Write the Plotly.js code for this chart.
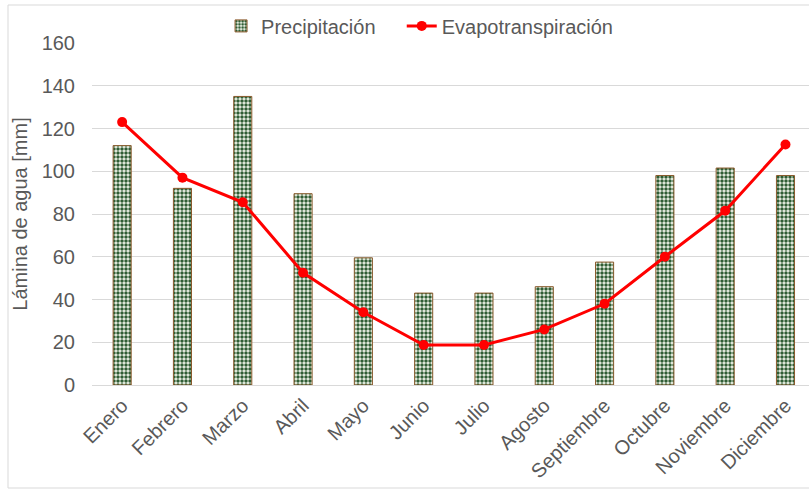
<!DOCTYPE html>
<html>
<head>
<meta charset="utf-8">
<script src="https://cdn.plot.ly/plotly-3.0.1.min.js"></script>
<style>html,body{margin:0;padding:0;background:#fff;}#chart{width:809px;height:490px;}</style>
</head>
<body>
<div id="chart"></div>
<script>
const meses = ["Enero","Febrero","Marzo","Abril","Mayo","Junio","Julio","Agosto","Septiembre","Octubre","Noviembre","Diciembre"];
const precipitacion = [112, 92, 135, 89.5, 59.5, 43, 43, 46, 57.5, 98, 101.5, 98];
const evapotranspiracion = [123, 97, 85.5, 52.5, 34, 18.7, 18.7, 26, 38, 60, 81.5, 112.5];

const txt = '#595959';
const font = 'Arial, "Liberation Sans", sans-serif';

const traces = [
  {
    type: 'bar', name: 'Precipitación', x: meses, y: precipitacion, width: 0.3, legend: 'legend',
    marker: {
      color: '#ffffff',
      line: {color: '#8a5a2c', width: 1},
      pattern: {shape: '.', fgcolor: '#2f5d34', bgcolor: '#f2f7ec', size: 4, solidity: 0.6, fillmode: 'replace'}
    }
  },
  {
    type: 'scatter', mode: 'lines+markers', name: 'Evapotranspiración', x: meses, y: evapotranspiracion, legend: 'legend2',
    line: {color: '#ff0000', width: 3},
    marker: {color: '#ff0000', size: 10}
  }
];

const layout = {
  width: 809, height: 490,
  margin: {l: 92, r: 0, t: 43, b: 105},
  paper_bgcolor: '#ffffff', plot_bgcolor: '#ffffff',
  font: {family: font, color: txt, size: 20},
  showlegend: true,
  legend: {orientation: 'h', x: 0.18, xanchor: 'left', y: 1.05, yanchor: 'middle',
           font: {size: 20, color: txt}},
  legend2: {orientation: 'h', x: 0.432, xanchor: 'left', y: 1.05, yanchor: 'middle',
           font: {size: 20, color: txt}},
  xaxis: {
    type: 'category', range: [-0.5, 11.39], tickangle: -45,
    showgrid: false, showline: true, linecolor: '#d9d9d9', linewidth: 1,
    ticks: '', tickfont: {size: 20, color: txt}, automargin: false
  },
  yaxis: {
    range: [0, 160], dtick: 20, showgrid: true, gridcolor: '#d9d9d9', gridwidth: 1,
    zeroline: false, showline: false, ticks: '', ticklabelstandoff: 16,
    tickfont: {size: 20, color: txt},
    title: {text: 'Lámina de agua [mm]', font: {size: 20, color: txt}, standoff: 8},
    automargin: false
  },
  shapes: [
    {type: 'rect', xref: 'paper', yref: 'paper', x0: -84/717, x1: 1.05, y0: -103/342, y1: 1 + 38/342,
     line: {color: '#d9d9d9', width: 1}, fillcolor: 'rgba(0,0,0,0)', layer: 'below'}
  ],
  bargap: 0.7
};

Plotly.newPlot('chart', traces, layout, {displayModeBar: false, staticPlot: true});
</script>
</body>
</html>
